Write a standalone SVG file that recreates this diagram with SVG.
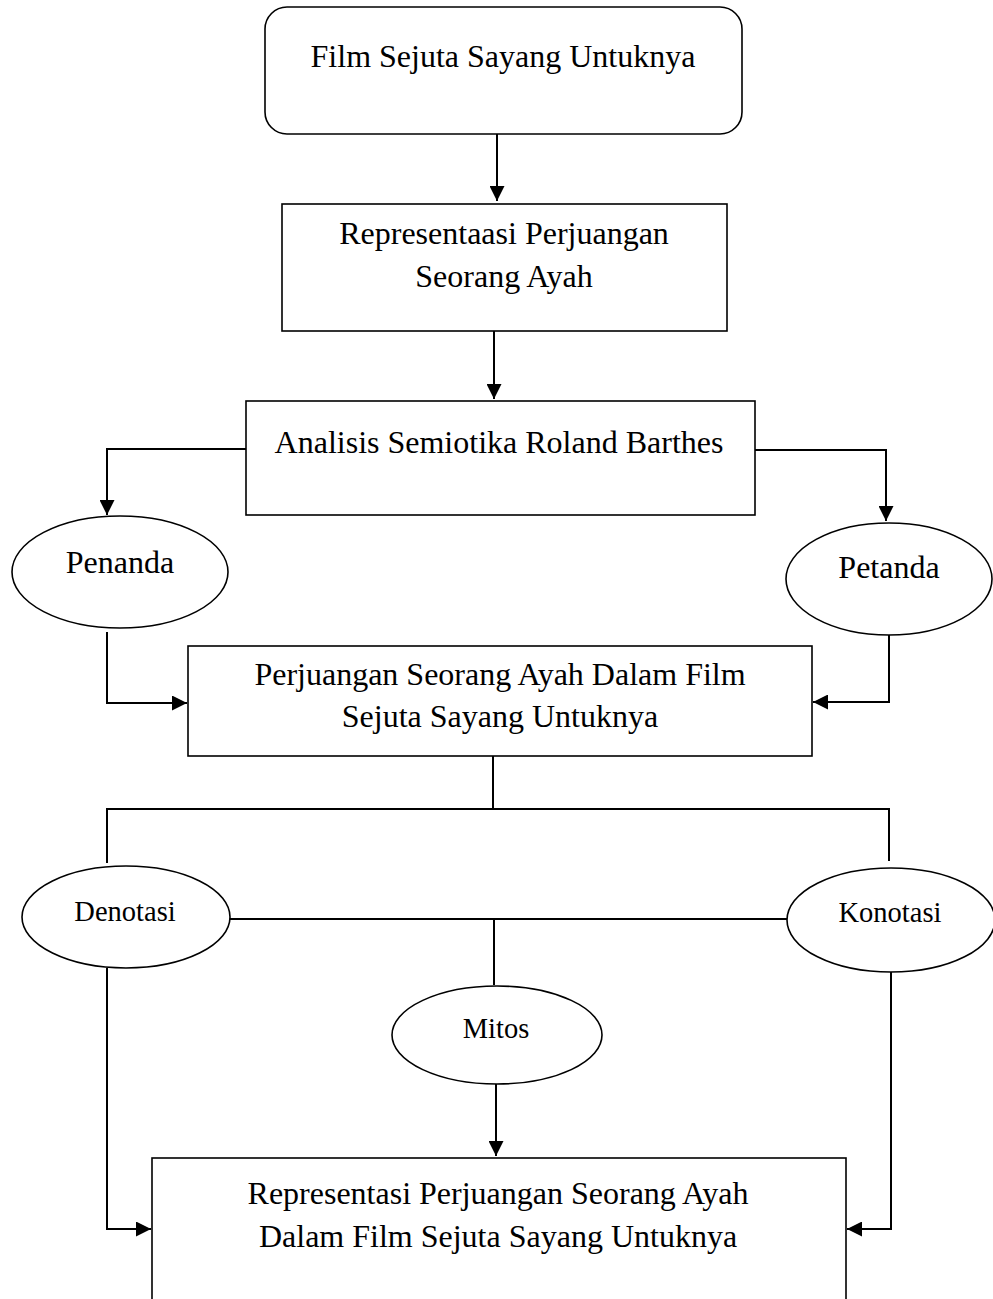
<svg xmlns="http://www.w3.org/2000/svg" width="993" height="1299" viewBox="0 0 993 1299">
<style>
.shape{fill:#fff;stroke:#000;stroke-width:1.6}
.t{font-family:"Liberation Serif","Times New Roman",serif;font-size:32px;fill:#000;text-anchor:middle}
.s{font-size:28.5px}
.c{fill:none;stroke:#000;stroke-width:2}
</style>
<defs>
<marker id="arr" viewBox="0 0 15 15" refX="15" refY="7.5" markerWidth="15" markerHeight="15" markerUnits="userSpaceOnUse" orient="auto">
<path d="M0,0 L15,7.5 L0,15 Z" fill="#000"/>
</marker>
</defs>
<rect width="993" height="1299" fill="#fff"/>
<g id="connectors">
<path class="c" d="M497,134 V201" marker-end="url(#arr)"/>
<path class="c" d="M494,331 V399" marker-end="url(#arr)"/>
<path class="c" d="M246,449 H107 V515" marker-end="url(#arr)"/>
<path class="c" d="M755,450 H886 V521" marker-end="url(#arr)"/>
<path class="c" d="M107,632 V703 H187" marker-end="url(#arr)"/>
<path class="c" d="M889,635 V702 H813" marker-end="url(#arr)"/>
<path class="c" d="M493,756 V809"/>
<path class="c" d="M107,863 V809 H889 V861"/>
<path class="c" d="M230,919 H787"/>
<path class="c" d="M494,919 V985"/>
<path class="c" d="M496,1084 V1156" marker-end="url(#arr)"/>
<path class="c" d="M107,968 V1229 H151" marker-end="url(#arr)"/>
<path class="c" d="M891,972 V1229 H847" marker-end="url(#arr)"/>
</g>
<g id="n1">
<rect class="shape" x="265" y="7" width="477" height="127" rx="22" ry="22"/>
<text class="t" x="503" y="67">Film Sejuta Sayang Untuknya</text>
</g>
<g id="n2">
<rect class="shape" x="282" y="204" width="445" height="127"/>
<text class="t" x="504" y="244">Representaasi Perjuangan</text>
<text class="t" x="504" y="287">Seorang Ayah</text>
</g>
<g id="n3">
<rect class="shape" x="246" y="401" width="509" height="114"/>
<text class="t" x="499" y="453">Analisis Semiotika Roland Barthes</text>
</g>
<g id="n4">
<ellipse class="shape" cx="120" cy="572" rx="108" ry="56"/>
<text class="t" x="120" y="573">Penanda</text>
</g>
<g id="n5">
<ellipse class="shape" cx="889" cy="579" rx="103" ry="56"/>
<text class="t" x="889" y="578">Petanda</text>
</g>
<g id="n6">
<rect class="shape" x="188" y="646" width="624" height="110"/>
<text class="t" x="500" y="685">Perjuangan Seorang Ayah Dalam Film</text>
<text class="t" x="500" y="727">Sejuta Sayang Untuknya</text>
</g>
<g id="n7">
<ellipse class="shape" cx="126" cy="917" rx="104" ry="51"/>
<text class="t s" x="125" y="921">Denotasi</text>
</g>
<g id="n8">
<ellipse class="shape" cx="891" cy="920" rx="104" ry="52"/>
<text class="t s" x="890" y="922">Konotasi</text>
</g>
<g id="n9">
<ellipse class="shape" cx="497" cy="1035" rx="105" ry="49"/>
<text class="t s" x="496" y="1038">Mitos</text>
</g>
<g id="n10">
<rect class="shape" x="152" y="1158" width="694" height="160"/>
<text class="t" x="498" y="1204">Representasi Perjuangan Seorang Ayah</text>
<text class="t" x="498" y="1247">Dalam Film Sejuta Sayang Untuknya</text>
</g>
</svg>
